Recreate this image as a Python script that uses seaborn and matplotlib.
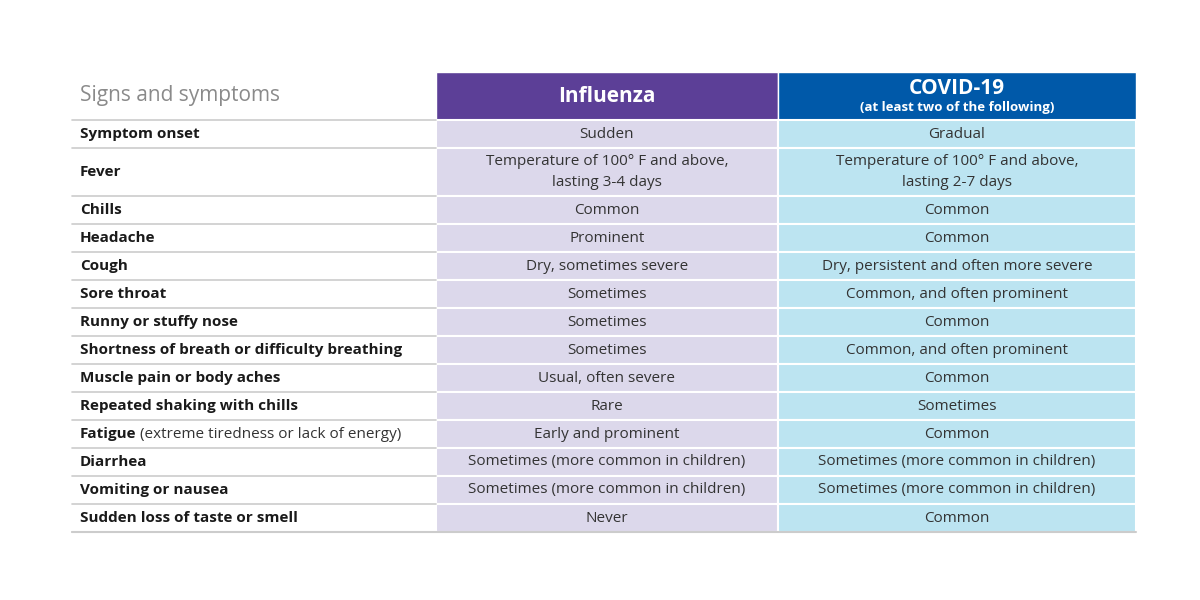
import matplotlib
matplotlib.use("Agg")
import matplotlib.pyplot as plt
import seaborn as sns
import numpy as np

sns.set_theme(style="white", font="Open Sans")

symptoms = ["Symptom onset", "Fever", "Chills", "Headache", "Cough", "Sore throat",
            "Runny or stuffy nose", "Shortness of breath or difficulty breathing",
            "Muscle pain or body aches", "Repeated shaking with chills", "Fatigue",
            "Diarrhea", "Vomiting or nausea", "Sudden loss of taste or smell"]
symptom_notes = ["", "", "", "", "", "", "", "", "", "", " (extreme tiredness or lack of energy)", "", "", ""]
influenza = ["Sudden", "Temperature of 100° F and above,\nlasting 3-4 days", "Common", "Prominent",
             "Dry, sometimes severe", "Sometimes", "Sometimes", "Sometimes", "Usual, often severe",
             "Rare", "Early and prominent", "Sometimes (more common in children)",
             "Sometimes (more common in children)", "Never"]
covid = ["Gradual", "Temperature of 100° F and above,\nlasting 2-7 days", "Common", "Common",
         "Dry, persistent and often more severe", "Common, and often prominent", "Common",
         "Common, and often prominent", "Common", "Sometimes", "Common",
         "Sometimes (more common in children)", "Sometimes (more common in children)", "Common"]
headers = ["Signs and symptoms", "Influenza", "COVID-19"]
covid_sub = "(at least two of the following)"

fig = plt.figure(figsize=(12, 6), dpi=100)
ax = fig.add_axes([0, 0, 1, 1])
ax.set_xlim(0, 1200); ax.set_ylim(600, 0); ax.axis("off")

x0, x1, x2, x3 = 72, 436, 778, 1136
top, hdr_h, unit = 72, 48, 28
lines = np.array([s.count("\n") + 1 for s in influenza])
heights = np.where(lines > 1, 48, unit)
ys = top + hdr_h + np.concatenate([[0], np.cumsum(heights)[:-1]])

purple_h, blue_h = "#5C3F97", "#0059A9"
purple_c, blue_c = "#DCD8EB", "#BCE4F1"

ax.barh([top], [x2 - x1], left=x1, height=hdr_h, align="edge", color=purple_h)
ax.barh([top], [x3 - x2], left=x2, height=hdr_h, align="edge", color=blue_h)
ax.barh(ys, [x2 - x1] * len(ys), left=x1, height=heights, align="edge", color=purple_c,
        edgecolor="white", linewidth=1.5)
ax.barh(ys, [x3 - x2] * len(ys), left=x2, height=heights, align="edge", color=blue_c,
        edgecolor="white", linewidth=1.5)

# separators in first column
for y in list(ys) + [ys[-1] + heights[-1]]:
    ax.plot([x0, x1], [y, y], color="#CCCCCC", lw=1.2)
ax.plot([x0, x3], [ys[-1] + heights[-1]] * 2, color="#CCCCCC", lw=1.5)

ax.text(80, top + hdr_h / 2, headers[0], fontsize=15, color="#8A8A8A", va="center", ha="left")
ax.text((x1 + x2) / 2, top + hdr_h / 2, headers[1], fontsize=15, color="white",
        weight="bold", va="center", ha="center")
ax.text((x2 + x3) / 2, top + 17, headers[2], fontsize=15, color="white",
        weight="bold", va="center", ha="center")
ax.text((x2 + x3) / 2, top + 35, covid_sub, fontsize=9.5, color="white",
        weight="bold", va="center", ha="center")

fig.canvas.draw()
r = fig.canvas.get_renderer()
for s, note, fl, cv, y, h in zip(symptoms, symptom_notes, influenza, covid, ys, heights):
    yc = y + h / 2
    t = ax.text(80, yc, s, fontsize=11, weight="bold", color="#1A1A1A", va="center", ha="left")
    if note:
        bb = t.get_window_extent(renderer=r)
        ax.text(bb.x1, yc, note, fontsize=11, color="#333333", va="center", ha="left",
                transform=matplotlib.transforms.blended_transform_factory(
                    matplotlib.transforms.IdentityTransform(), ax.transData))
    ax.text((x1 + x2) / 2, yc, fl, fontsize=11, color="#333333", va="center", ha="center",
            linespacing=1.5)
    ax.text((x2 + x3) / 2, yc, cv, fontsize=11, color="#333333", va="center", ha="center",
            linespacing=1.5)

fig.savefig("out.png", dpi=100)
